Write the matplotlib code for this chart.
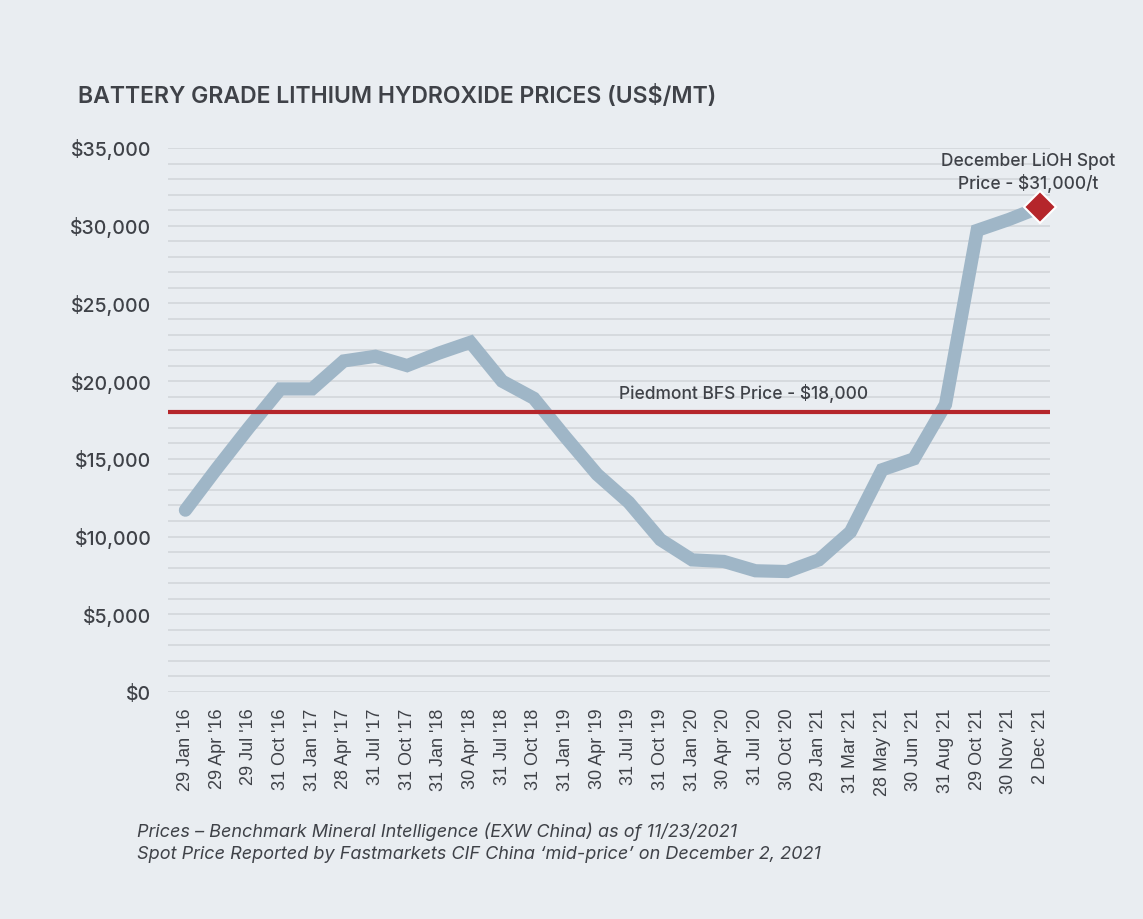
import matplotlib.pyplot as plt
from matplotlib.ticker import FuncFormatter, MultipleLocator

# Data
dates = ["29 Jan '16", "29 Apr '16", "29 Jul '16", "31 Oct '16", "31 Jan '17",
         "28 Apr '17", "31 Jul '17", "31 Oct '17", "31 Jan '18", "30 Apr '18",
         "31 Jul '18", "31 Oct '18", "31 Jan '19", "30 Apr '19", "31 Jul '19",
         "31 Oct '19", "31 Jan '20", "30 Apr '20", "31 Jul '20", "30 Oct '20",
         "29 Jan '21", "31 Mar '21", "28 May '21", "30 Jun '21", "31 Aug '21",
         "29 Oct '21", "30 Nov '21", "2 Dec '21"]
prices = [11700, 14400, 17000, 19500, 19500,
          21300, 21600, 21000, 21800, 22500,
          20000, 18900, 16400, 14000, 12200,
          9800, 8500, 8400, 7800, 7750,
          8500, 10300, 14300, 15000, 18500,
          29700, 30400, 31200]
bfs_price = 18000

bg = "#e9edf1"
text_col = "#3f4248"

plt.rcParams["font.family"] = ["Inter", "DejaVu Sans"]

fig = plt.figure(figsize=(11.43, 9.19), dpi=100, facecolor=bg)
ax = fig.add_axes([168 / 1143, 1 - 692 / 919, (1050 - 168) / 1143, (692 - 148) / 919])
ax.set_facecolor(bg)

x = list(range(len(dates)))
ax.set_xlim(-0.55, len(dates) - 0.7)
ax.set_ylim(0, 35000)

# gridlines every 1000
ax.yaxis.set_major_locator(MultipleLocator(5000))
ax.yaxis.set_minor_locator(MultipleLocator(1000))
ax.grid(axis="y", which="both", color="#d5d8dc", linewidth=1.3)
ax.set_axisbelow(True)

ax.plot(x, prices, color="#9fb6c7", linewidth=9.5, solid_capstyle="round",
        solid_joinstyle="miter", zorder=2, clip_on=False)
ax.axhline(bfs_price, color="#b5262b", linewidth=3, zorder=3)
ax.plot(x[-1], prices[-1], marker="D", markersize=16, color="#b5262b",
        markeredgecolor="white", markeredgewidth=1.5, zorder=4, clip_on=False)

ax.text(13.7, bfs_price + 600, "Piedmont BFS Price - $18,000", ha="left", va="bottom",
        fontsize=12.5, fontweight="medium", color=text_col)
ax.text(x[-1] - 0.4, 33400, "December LiOH Spot\nPrice - $31,000/t", ha="center",
        va="center", fontsize=12.5, fontweight="medium", color=text_col, linespacing=1.3)

for s in ax.spines.values():
    s.set_visible(False)
ax.tick_params(axis="both", which="both", length=0)
ax.yaxis.set_major_formatter(FuncFormatter(lambda v, p: f"${v:,.0f}"))
ax.tick_params(axis="y", labelsize=14, labelcolor=text_col, pad=12)
for lab in ax.get_yticklabels():
    lab.set_fontweight("medium")
ax.set_xticks(x)
ax.set_xticklabels(dates, rotation=90, fontsize=13, color=text_col,
                   family=["Liberation Sans", "DejaVu Sans"])
ax.tick_params(axis="x", pad=12)

fig.text(78 / 1143, 1 - 97 / 919, "BATTERY GRADE LITHIUM HYDROXIDE PRICES (US$/MT)",
         fontsize=16.6, fontweight="semibold", color=text_col, va="center", ha="left")
fig.text(137 / 1143, 1 - 843 / 919,
         "Prices \u2013 Benchmark Mineral Intelligence (EXW China) as of 11/23/2021\n"
         "Spot Price Reported by Fastmarkets CIF China \u2018mid-price\u2019 on December 2, 2021",
         fontsize=13, style="italic", color=text_col, va="center", ha="left",
         linespacing=1.35)

fig.savefig("out.png", dpi=100, facecolor=bg)
